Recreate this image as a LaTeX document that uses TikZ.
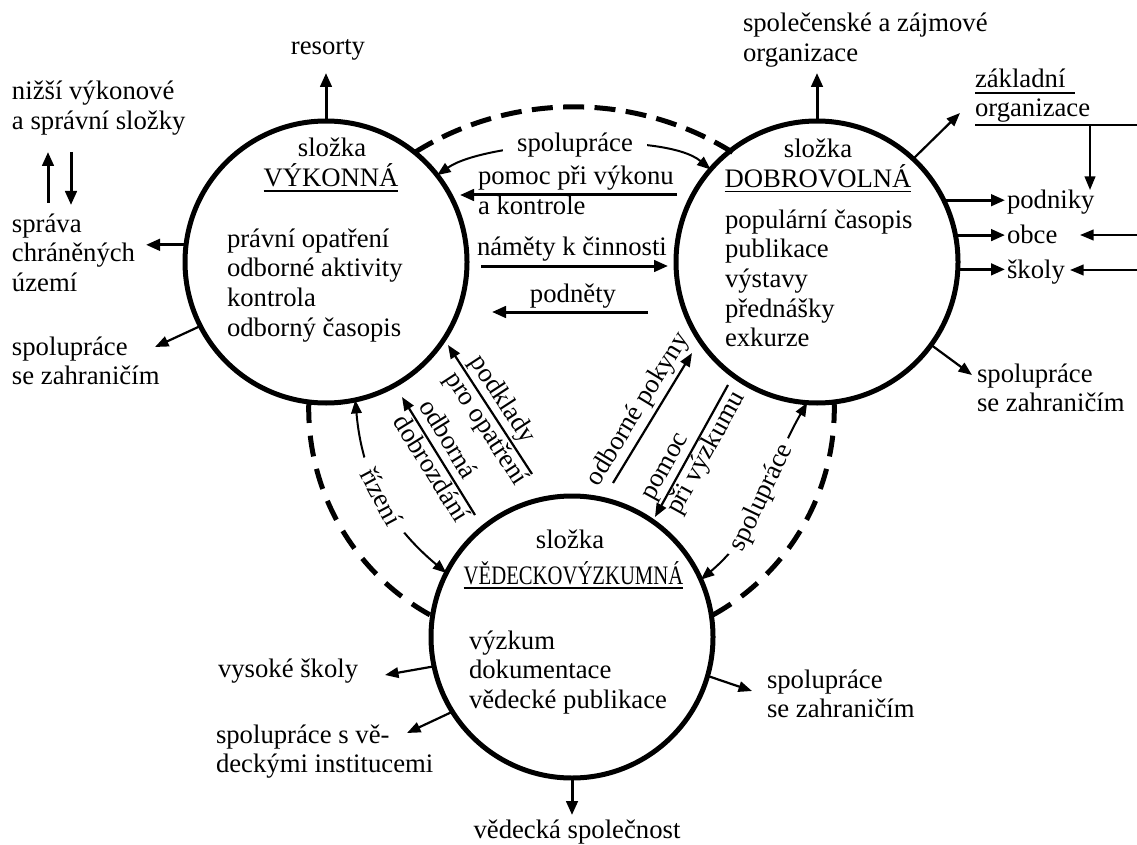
\documentclass[tikz,border=0pt]{standalone}
\usepackage{fontspec}
\setmainfont{Liberation Serif}
\usepackage{graphicx}
\usetikzlibrary{arrows.meta,calc}
\newcommand{\mlines}[1]{\begin{tabular}[t]{@{}l@{}}#1\end{tabular}}
\begin{document}
\begin{tikzpicture}[x=1pt,y=1pt,
  font=\fontsize{26.7}{29.7}\selectfont,
  every node/.style={inner sep=0pt, outer sep=0pt},
  comp/.style={draw, circle, line width=5pt, minimum size=282pt, inner sep=0pt},
  dasharc/.style={line width=5pt, dash pattern=on 21pt off 12.8pt},
  thickarr/.style={line width=3pt, -{Triangle[length=14pt,width=11.5pt]}},
  thinarr/.style={line width=2.2pt, -{Triangle[length=13.5pt,width=10.5pt]}},
  curvearr/.style={line width=2pt, {Triangle[length=13.5pt,width=10.5pt]}-{Triangle[length=13.5pt,width=10.5pt]}},
  uline/.style={line width=1.8pt},
  gaplabel/.style={midway, sloped, fill=white, inner ysep=1pt}
]
\path[use as bounding box, fill=white] (0,0) rectangle (1137,-845);

% components and dashed links
\node[comp] (c1) at (326,-262) {};
\node[comp] (c2) at (817,-262) {};
\node[comp] (c3) at (572,-637) {};
\draw[dasharc, dash pattern=on 21pt off 10.4pt] (c1.51) arc[start angle=122, end angle=58, radius=300];
\draw[dasharc] (c1.-97) arc[start angle=178.3, end angle=241, radius=235.5];
\draw[dasharc] (c2.-83) arc[start angle=1.7, end angle=-61, radius=235.5];

% circle 1 texts
\node[anchor=base] (c1h) at (332,-157) {složka};
\node[anchor=base] (c1n) at (331,-187) {VÝKONNÁ};
\draw[uline] ([yshift=-4pt]c1n.base west) -- ([yshift=-4pt]c1n.base east);
\node[anchor=base west] (c1l) at (227,-247) {\mlines{právní opatření\\odborné aktivity\\kontrola\\odborný časopis}};

% circle 2 texts
\node[anchor=base] (c2h) at (818,-158) {složka};
\node[anchor=base] (c2n) at (818,-187.5) {DOBROVOLNÁ};
\draw[uline] ([yshift=-4pt]c2n.base west) -- ([yshift=-4pt]c2n.base east);
\node[anchor=base west] (c2l) at (725,-228) {\mlines{populární časopis\\publikace\\výstavy\\přednášky\\exkurze}};

% circle 3 texts
\node[anchor=base] (c3h) at (570,-548) {složka};
\node[anchor=base] (c3n) at (573.5,-584) {\scalebox{0.775}[1]{VĚDECKOVÝZKUMNÁ}};
\draw[uline] ([yshift=-4pt]c3n.base west) -- ([yshift=-4pt]c3n.base east);
\node[anchor=base west] (c3l) at (469,-649) {\mlines{výzkum\\dokumentace\\vědecké publikace}};

% outer nodes around circle 1
\node[anchor=base] (res) at (328,-55) {resorty};
\coordinate (resT) at (326,-73);
\draw[thickarr] (c1.90) -- (resT);
\node[anchor=base west] (niz) at (12,-100) {\mlines{nižší výkonové\\a správní složky}};
\node[anchor=base west] (spr) at (12,-232) {\mlines{správa\\chráněných\\území}};
\coordinate (up1) at (48,-203); \coordinate (up2) at (48,-152);
\coordinate (dn1) at (71,-152); \coordinate (dn2) at (71,-205);
\draw[thickarr] (up1) -- (up2);
\draw[thickarr] (dn1) -- (dn2);
\coordinate (sprT) at (146,-245);
\draw[thickarr] (c1.173) -- (c1.173 -| sprT);
\node[anchor=base west] (zah1) at (12,-355) {\mlines{spolupráce\\se zahraničím}};
\coordinate (zah1T) at (155,-347);
\draw[thinarr] (c1.207.6) -- (zah1T);

% outer nodes around circle 2
\node[anchor=base west] (spz) at (743,-32) {\mlines{společenské a zájmové\\organizace}};
\coordinate (spzT) at (817,-73);
\draw[thickarr] (c2.90) -- (spzT);
\node[anchor=base west] (zakl) at (975,-88) {základní};
\node[anchor=base west] (org) at (975,-117) {organizace};
\draw[line width=1.5pt] (975,-93) -- (1075,-93);
\coordinate (orgL) at (975,-125); \coordinate (orgR) at (1137,-125);
\draw[line width=1.5pt] (orgL) -- (orgR);
\coordinate (orgD) at (1090,-125); \coordinate (podT2) at (1090,-190);
\draw[thinarr] (orgD) -- (podT2);
\coordinate (zaklT) at (960,-113);
\draw[thinarr] (c2.47.8) -- (zaklT);
\node[anchor=base west] (pod) at (1007,-208) {podniky};
\node[anchor=base west] (obc) at (1007,-243) {obce};
\node[anchor=base west] (sko) at (1007,-278) {školy};
\coordinate (listT) at (1005,0);
\draw[thickarr] (c2.26) -- (c2.26 -| listT);
\draw[thickarr] (c2.11) -- (c2.11 -| listT);
\draw[thickarr] (c2.-3.3) -- (c2.-3.3 -| listT);
\coordinate (obR) at (1137,-235); \coordinate (obT) at (1080,-235);
\coordinate (skR) at (1137,-270); \coordinate (skT) at (1070,-270);
\draw[thinarr] (obR) -- (obT);
\draw[thinarr] (skR) -- (skT);
\node[anchor=base west] (zah2) at (977,-382) {\mlines{spolupráce\\se zahraničím}};
\coordinate (zah2T) at (972,-375);
\draw[thinarr] (c2.-36.2) -- (zah2T);

% outer nodes around circle 3
\node[anchor=base] (vsp) at (577,-838) {vědecká společnost};
\coordinate (vspT) at (572,-815);
\draw[thickarr] (c3.270) -- (vspT);
\node[anchor=base west] (vys) at (218,-677) {vysoké školy};
\coordinate (vysT) at (385,-675);
\draw[thinarr] (c3.192) -- (vysT);
\node[anchor=base west] (ved) at (216,-743) {\mlines{spolupráce s vě-\\deckými institucemi}};
\coordinate (vedT) at (407,-733);
\draw[thinarr] (c3.212) -- (vedT);
\node[anchor=base west] (zah3) at (767,-688) {\mlines{spolupráce\\se zahraničím}};
\coordinate (zah3T) at (752,-691);
\draw[thinarr] (c3.-16.3) -- (zah3T);

% links between circles
\draw[curvearr] (c1.38) to[out=35, in=140, looseness=0.56]
  node[midway, fill=white, inner xsep=14pt, inner ysep=2pt] (sp12) {spolupráce} (c2.139);
\coordinate (pv1) at (677,-195); \coordinate (pv2) at (460,-195);
\draw[thickarr] (pv1) -- (pv2);
\node[anchor=base west] (pvl) at (478,-185) {\mlines{pomoc při výkonu\\a kontrole}};
\coordinate (nm1) at (481,-266); \coordinate (nm2) at (668,-266);
\draw[thickarr] (nm1) -- (nm2);
\node[anchor=base west] (nml) at (477,-255) {náměty k činnosti};
\coordinate (pd1) at (648,-312); \coordinate (pd2) at (492,-312);
\draw[thickarr] (pd1) -- (pd2);
\node[anchor=base] (pdl) at (573,-302) {podněty};

\coordinate (pk1) at (532,-474); \coordinate (pk2) at (448,-345);
\draw[thinarr] (pk1) -- node[pos=0.41, sloped] (pkl) {\mlines{podklady\\pro opatření}} (pk2);
\coordinate (od1) at (475,-515); \coordinate (od2) at (402,-397);
\draw[thinarr] (od1) -- node[pos=0.45, sloped] (odl) {\mlines{odborná\\dobrozdání}} (od2);
\draw[curvearr] (c1.-78.5) to[out=-85, in=140]
  node[gaplabel, inner xsep=12pt] (riz) {řízení} (c3.153);

\coordinate (ok1) at (613,-483); \coordinate (ok2) at (692,-353);
\draw[thinarr] (ok1) -- node[midway, sloped, anchor=south, inner sep=4.5pt] (okl) {odborné pokyny} (ok2);
\coordinate (pz1) at (728,-385); \coordinate (pz2) at (655,-517);
\draw[thinarr] (pz1) -- node[pos=0.465, sloped] (pzl) {\mlines{pomoc\\při výzkumu}} (pz2);
\draw[curvearr] (c2.-94) to[out=-120, in=40]
  node[gaplabel, inner xsep=7pt] (sp23) {spolupráce} (c3.24);
\end{tikzpicture}
\end{document}
